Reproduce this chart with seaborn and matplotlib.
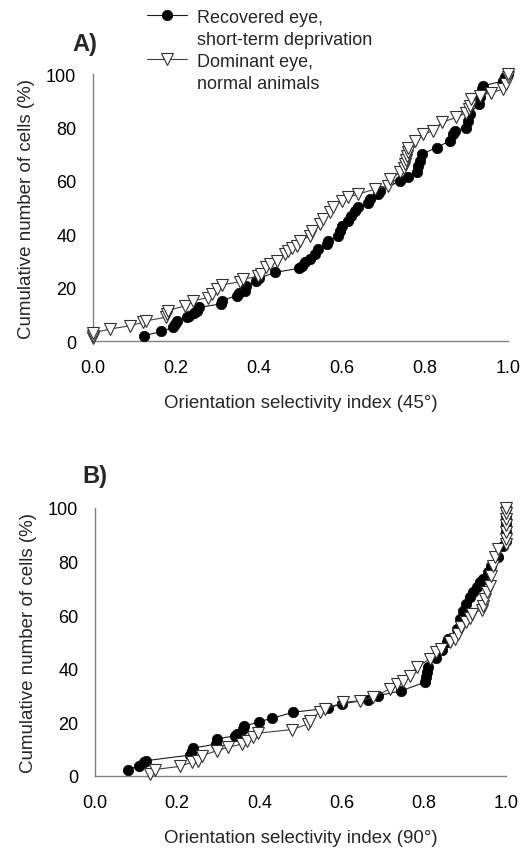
import matplotlib
matplotlib.use("Agg")
import matplotlib.pyplot as plt
from matplotlib.lines import Line2D
import seaborn as sns
import pandas as pd

# Panel A (45 deg) - recovered eye, short-term deprivation
a_rec_x = [0.124, 0.165, 0.192, 0.198, 0.203, 0.226, 0.232, 0.244, 0.25, 0.256, 0.308, 0.31,
           0.346, 0.352, 0.366, 0.369, 0.394, 0.40, 0.439, 0.497, 0.503, 0.511, 0.523, 0.535,
           0.543, 0.563, 0.567, 0.591, 0.595, 0.599, 0.615, 0.623, 0.631, 0.639, 0.663, 0.667,
           0.687, 0.692, 0.74, 0.76, 0.78, 0.784, 0.788, 0.792, 0.828, 0.86, 0.868, 0.872, 0.90,
           0.904, 0.908, 0.93, 0.933, 0.937, 0.94, 0.989, 0.993, 1.0]
a_rec_y = [2.0, 3.6, 5.1, 6.4, 7.4, 8.9, 9.5, 10.4, 11.4, 12.6, 13.9, 15.1,
           17.0, 18.0, 18.8, 20.5, 22.6, 23.5, 25.7, 27.3, 28.2, 29.5, 30.7, 32.6,
           34.5, 36.3, 37.6, 39.4, 41.3, 43.0, 45.1, 46.9, 48.8, 50.1, 51.9, 53.2,
           55.1, 56.3, 60.0, 61.3, 63.2, 65.7, 67.5, 70.0, 72.5, 75.0, 77.5, 78.8, 80.0,
           82.5, 85.0, 89.0, 91.5, 94.4, 95.6, 97.5, 98.8, 100.0]

# Panel A (45 deg) - dominant eye, normal animals
a_dom_x = [0.0, 0.0, 0.0, 0.041, 0.089, 0.121, 0.129, 0.176, 0.178, 0.18, 0.222, 0.242, 0.278,
           0.286, 0.298, 0.31, 0.354, 0.362, 0.398, 0.406, 0.418, 0.427, 0.443, 0.463, 0.471,
           0.479, 0.491, 0.499, 0.523, 0.527, 0.547, 0.555, 0.571, 0.579, 0.599, 0.615, 0.639,
           0.68, 0.711, 0.716, 0.74, 0.75, 0.752, 0.754, 0.756, 0.758, 0.76, 0.776, 0.796, 0.82,
           0.84, 0.876, 0.90, 0.906, 0.908, 0.912, 0.933, 0.96, 0.989, 0.996, 1.0, 1.0]
a_dom_y = [1.0, 2.0, 3.0, 4.5, 5.7, 7.0, 7.6, 8.9, 10.1, 11.4, 13.2, 15.1, 16.3,
           17.6, 19.5, 21.0, 22.2, 23.2, 24.2, 25.1, 27.6, 28.8, 30.1, 32.6, 33.8,
           34.9, 35.7, 37.6, 39.4, 41.3, 43.8, 45.7, 48.2, 50.1, 52.5, 53.8, 55.1,
           56.9, 58.2, 60.7, 63.2, 65.0, 66.3, 68.0, 69.4, 71.0, 72.5, 75.0, 77.5, 78.8,
           81.9, 83.8, 85.6, 87.0, 88.1, 90.6, 91.9, 93.1, 94.4, 96.3, 98.8, 100.0]

# Panel B (90 deg) - recovered eye, short-term deprivation
b_rec_x = [0.081, 0.108, 0.118, 0.124, 0.231, 0.235, 0.239, 0.294, 0.296, 0.341, 0.345, 0.359,
           0.363, 0.40, 0.43, 0.483, 0.568, 0.60, 0.665, 0.69, 0.746, 0.803, 0.806, 0.809,
           0.811, 0.83, 0.845, 0.856, 0.86, 0.88, 0.888, 0.896, 0.904, 0.912, 0.92, 0.929,
           0.937, 0.945, 0.957, 0.965, 0.981, 0.993, 1.0, 1.0, 1.0, 1.0, 1.0]
b_rec_y = [2.4, 3.8, 5.1, 5.7, 7.8, 9.4, 10.4, 11.9, 13.8, 15.0, 15.7, 17.5,
           18.5, 20.3, 21.5, 23.8, 25.3, 26.9, 28.4, 30.0, 31.8, 35.0, 36.8, 38.7,
           40.6, 44.0, 47.0, 49.9, 51.1, 54.9, 58.6, 61.7, 64.2, 66.7, 68.5, 70.4,
           72.3, 73.5, 76.0, 78.5, 81.6, 85.9, 87.8, 91.0, 94.0, 97.0, 100.0]

# Panel B (90 deg) - dominant eye, normal animals
b_dom_x = [0.134, 0.146, 0.207, 0.235, 0.251, 0.26, 0.296, 0.324, 0.357, 0.369, 0.385, 0.397,
           0.479, 0.519, 0.523, 0.547, 0.56, 0.604, 0.645, 0.677, 0.718, 0.734, 0.75, 0.766,
           0.783, 0.815, 0.831, 0.843, 0.864, 0.876, 0.884, 0.892, 0.904, 0.912, 0.917, 0.941,
           0.945, 0.949, 0.953, 0.961, 0.965, 0.969, 0.973, 0.981, 1.0, 1.0, 1.0, 1.0, 1.0,
           1.0, 1.0]
b_dom_y = [0.7, 2.4, 3.6, 5.1, 5.7, 7.6, 9.4, 10.7, 11.9, 13.2, 14.4, 16.0,
           17.3, 19.4, 20.6, 24.0, 25.0, 27.5, 28.1, 29.4, 32.5, 34.3, 35.6, 37.4,
           40.6, 43.7, 46.2, 47.4, 49.9, 51.1, 53.0, 55.5, 57.4, 59.0, 60.5, 62.0,
           63.5, 66.0, 68.5, 71.0, 74.7, 78.5, 81.6, 84.7, 86.6, 88.5, 91.0, 93.5,
           95.9, 98.0, 100.0]

legend_rows = ["Recovered eye,", "short-term deprivation", "Dominant eye,", "normal animals"]
ticks_x = [0.0, 0.2, 0.4, 0.6, 0.8, 1.0]
ticks_y = [0, 20, 40, 60, 80, 100]

sns.set_style("white")
plt.rcParams["font.family"] = ["Liberation Sans", "DejaVu Sans"]

fig = plt.figure(figsize=(5.28, 8.54), dpi=100)
ax_a = fig.add_axes([0.176, 0.5995, 0.786, 0.3125])
ax_b = fig.add_axes([0.180, 0.0902, 0.778, 0.3138])

rec_style = dict(color="#1a1a1a", lw=0.8, marker="o", markersize=7.5,
                 markerfacecolor="black", markeredgecolor="black", markeredgewidth=0.5)
dom_style = dict(color="#404040", lw=0.8, marker="v", markersize=8.5,
                 markerfacecolor="white", markeredgecolor="#303030", markeredgewidth=0.8)


def draw(ax, rx, ry, dx, dy, xlabel, panel, px, py):
    rec = pd.DataFrame({"osi": rx, "cum": ry})
    dom = pd.DataFrame({"osi": dx, "cum": dy})
    sns.lineplot(data=rec, x="osi", y="cum", ax=ax, sort=False, estimator=None,
                 clip_on=False, zorder=3, **rec_style)
    sns.lineplot(data=dom, x="osi", y="cum", ax=ax, sort=False, estimator=None,
                 clip_on=False, zorder=4, **dom_style)
    ax.set_xlim(0, 1)
    ax.set_ylim(0, 100)
    ax.set_xticks(ticks_x)
    ax.set_xticklabels([f"{t:.1f}" for t in ticks_x])
    ax.set_yticks(ticks_y)
    sns.despine(ax=ax)
    for s in ["left", "bottom"]:
        ax.spines[s].set_color("#808080")
        ax.spines[s].set_linewidth(1.0)
    ax.tick_params(axis="both", which="major", direction="out", length=4, width=1,
                   color="#808080", labelsize=13, labelcolor="black")
    ax.tick_params(axis="x", pad=9)
    ax.tick_params(axis="y", pad=8)
    ax.set_xlabel(xlabel, fontsize=13.5, labelpad=13)
    ax.set_ylabel("Cumulative number of cells (%)", fontsize=13.5, labelpad=8)
    ax.text(px, py, panel, transform=ax.transAxes, fontsize=17, fontweight="bold",
            ha="left", va="bottom")


draw(ax_a, a_rec_x, a_rec_y, a_dom_x, a_dom_y, "Orientation selectivity index (45°)",
     "A)", -0.05, 1.07)
draw(ax_b, b_rec_x, b_rec_y, b_dom_x, b_dom_y, "Orientation selectivity index (90°)",
     "B)", -0.03, 1.08)

blank = Line2D([], [], linestyle="none")
h_rec = Line2D([], [], **rec_style)
h_dom = Line2D([], [], **dom_style)
fig.legend([h_rec, blank, h_dom, blank], legend_rows,
           loc="upper left", bbox_to_anchor=(0.272, 0.993), frameon=False, fontsize=13,
           handlelength=2.2, handletextpad=0.55, labelspacing=0.28, borderpad=0.2,
           borderaxespad=0)

fig.savefig("out.png", dpi=100)
